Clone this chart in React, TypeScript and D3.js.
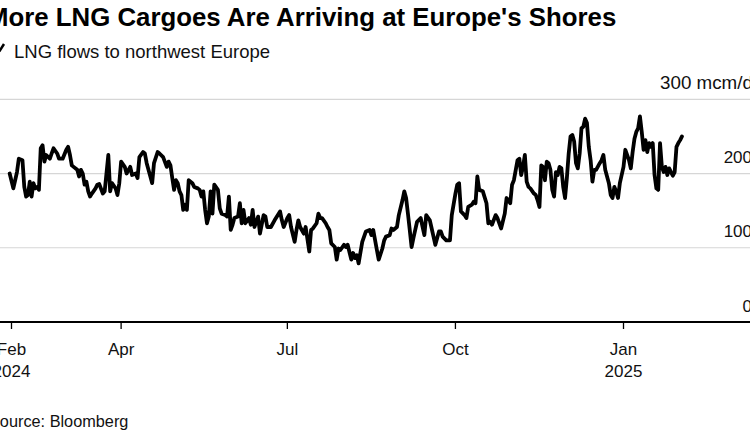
import React from 'react';
import * as d3 from 'd3';

const TITLE = "More LNG Cargoes Are Arriving at Europe's Shores";
const SUBTITLE = "LNG flows to northwest Europe";
const SOURCE = "Source: Bloomberg";
const START_DATE = "2024-01-31";

// days since START_DATE
const dayOffsets = [
  0, 2, 3, 4, 5, 7, 8, 9, 10, 11,
  12, 13, 14, 15, 16, 17, 18, 19, 20, 22,
  23, 24, 26, 27, 29, 31, 32, 33, 34, 35,
  37, 38, 39, 40, 41, 42, 43, 44, 45, 47,
  48, 49, 51, 52, 54, 55, 56, 58, 59, 60,
  61, 63, 64, 66, 67, 69, 70, 71, 73, 74,
  75, 77, 78, 79, 81, 82, 84, 86, 87, 88,
  89, 90, 91, 92, 93, 94, 95, 96, 97, 98,
  100, 101, 103, 104, 105, 106, 107, 108, 109, 110,
  111, 112, 114, 115, 116, 118, 119, 120, 121, 122,
  123, 125, 126, 127, 128, 129, 131, 132, 133, 134,
  136, 137, 139, 140, 141, 143, 145, 148, 149, 150,
  152, 153, 154, 156, 157, 158, 159, 161, 162, 164,
  165, 166, 168, 169, 170, 171, 173, 174, 175, 176,
  178, 179, 180, 181, 183, 184, 185, 187, 188, 189,
  190, 191, 193, 194, 195, 197, 198, 199, 201, 202,
  204, 205, 206, 208, 209, 210, 212, 213, 215, 216,
  217, 218, 219, 220, 221, 222, 223, 225, 226, 227,
  228, 230, 231, 232, 233, 235, 236, 237, 239, 240,
  241, 242, 244, 245, 246, 247, 249, 250, 251, 253,
  254, 255, 256, 257, 259, 261, 262, 263, 264, 266,
  267, 269, 271, 272, 274, 275, 276, 278, 279, 280,
  281, 282, 283, 284, 285, 287, 288, 289, 290, 291,
  292, 293, 294, 295, 296, 297, 298, 299, 300, 301,
  302, 303, 304, 305, 306, 307, 308, 309, 310, 311,
  312, 313, 314, 315, 316, 317, 318, 319, 320, 321,
  323, 324, 325, 326, 328, 329, 330, 331, 332, 333,
  334, 336, 337, 339, 340, 341, 342, 343, 344, 345,
  346, 347, 348, 349, 350, 351, 352, 353, 354, 355,
  356, 357, 358, 359, 360, 361, 362, 363, 364, 365,
  366, 367, 368,
];

// mcm/d
const flowValues = [
  200, 180, 191, 202, 220, 218, 182, 169, 171, 189,
  169, 187, 180, 182, 178, 234, 238, 216, 225, 220,
  227, 234, 227, 220, 220, 232, 236, 225, 211, 209,
  205, 196, 205, 200, 185, 189, 176, 169, 173, 180,
  185, 186, 173, 176, 225, 176, 187, 180, 171, 187,
  216, 209, 200, 209, 198, 200, 194, 222, 229, 227,
  214, 196, 187, 214, 229, 227, 222, 209, 216, 211,
  194, 178, 191, 187, 176, 171, 151, 158, 151, 191,
  187, 182, 180, 178, 169, 176, 151, 133, 142, 176,
  146, 185, 178, 153, 146, 144, 142, 169, 124, 131,
  140, 142, 160, 133, 151, 133, 140, 131, 151, 128,
  142, 119, 144, 142, 128, 128, 137, 149, 137, 128,
  140, 144, 128, 108, 124, 137, 128, 119, 128, 95,
  124, 126, 133, 146, 140, 140, 133, 128, 124, 106,
  101, 84, 99, 97, 104, 101, 104, 84, 93, 86,
  90, 79, 108, 115, 122, 124, 117, 124, 97, 84,
  99, 110, 115, 117, 126, 124, 128, 144, 164, 176,
  167, 146, 124, 101, 113, 124, 135, 140, 128, 117,
  144, 137, 126, 115, 104, 122, 122, 115, 110, 110,
  110, 144, 173, 185, 187, 149, 144, 140, 155, 158,
  162, 160, 196, 178, 176, 160, 133, 135, 131, 144,
  140, 126, 146, 167, 160, 185, 191, 218, 220, 198,
  209, 225, 189, 182, 180, 173, 171, 164, 155, 211,
  209, 191, 216, 214, 205, 178, 169, 202, 198, 209,
  207, 182, 167, 194, 227, 250, 252, 243, 214, 207,
  227, 261, 263, 274, 268, 236, 218, 189, 205, 205,
  214, 218, 225, 205, 187, 171, 167, 182, 176, 167,
  187, 209, 232, 218, 207, 229, 247, 256, 261, 277,
  256, 232, 245, 229, 241, 236, 241, 198, 180, 178,
  241, 209, 202, 209, 198, 207, 202, 197, 202, 236,
  241, 245, 250,
];

const yTicks = [0, 100, 200, 300];
const yUnit = " mcm/d";
const xTickDates = ["2024-02-01", "2024-04-01", "2024-07-01", "2024-10-01", "2025-01-01"];
const xTickLabels = [["Feb", "2024"], ["Apr"], ["Jul"], ["Oct"], ["Jan", "2025"]];

const FONT = "'Liberation Sans', Arial, Helvetica, sans-serif";

export default function App() {
  const W = 750;
  const H = 444;
  const parse = d3.utcParse("%Y-%m-%d");
  const start = parse(START_DATE) as Date;
  const data = dayOffsets.map((d, i) => ({ date: d3.utcDay.offset(start, d), value: flowValues[i] }));

  const x = d3
    .scaleUtc()
    .domain([parse("2024-02-01") as Date, parse("2025-01-01") as Date])
    .range([11.5, 623.5]);
  const y = d3.scaleLinear().domain([0, 300]).range([322, 99.3]);

  const line = d3
    .line<{ date: Date; value: number }>()
    .x((d) => x(d.date))
    .y((d) => y(d.value));

  const yMax = yTicks[yTicks.length - 1];

  return (
    <svg
      width={W}
      height={H}
      viewBox={`0 0 ${W} ${H}`}
      style={{ position: 'fixed', left: 0, top: 0, display: 'block', background: '#fff' }}
      fontFamily={FONT}
    >
      <rect x={0} y={0} width={W} height={H} fill="#fff" />
      {/* title */}
      <text x={-13} y={26} fontSize={25.8} fontWeight="bold" fill="#000">
        {TITLE}
      </text>
      {/* legend */}
      <polyline points="-3,47 -0.5,51 4,44" fill="none" stroke="#000" strokeWidth={2.5} strokeLinejoin="round" />
      <text x={14} y={58} fontSize={18.5} fill="#111">
        {SUBTITLE}
      </text>

      {/* gridlines */}
      {yTicks
        .filter((t) => t > 0)
        .map((t) => (
          <line key={`g${t}`} x1={0} x2={W} y1={y(t)} y2={y(t)} stroke="#d6d6d6" strokeWidth={1.2} />
        ))}

      {/* y labels */}
      {yTicks.map((t) => (
        <text
          key={`yl${t}`}
          x={t === yMax ? 660 : 752}
          y={y(t) - 10.5}
          fontSize={t === yMax ? 18.8 : 17}
          textAnchor={t === yMax ? 'start' : 'end'}
          fill="#111"
        >
          {t === yMax ? `${t}${yUnit}` : `${t}`}
        </text>
      ))}

      {/* line */}
      <path d={line(data) || ''} fill="none" stroke="#000" strokeWidth={3.8} strokeLinejoin="round" strokeLinecap="round" />

      {/* x axis */}
      <line x1={0} x2={W} y1={y(0)} y2={y(0)} stroke="#000" strokeWidth={1.8} />
      {xTickDates.map((ds, i) => {
        const xx = x(parse(ds) as Date);
        return (
          <g key={ds}>
            <line x1={xx} x2={xx} y1={y(0)} y2={y(0) + 7} stroke="#000" strokeWidth={1.3} />
            {xTickLabels[i].map((lab, j) => (
              <text key={lab} x={xx} y={355 + j * 22} fontSize={17} textAnchor="middle" fill="#111">
                {lab}
              </text>
            ))}
          </g>
        );
      })}

      {/* source */}
      <text x={-11} y={427} fontSize={16.3} fill="#111">
        {SOURCE}
      </text>
    </svg>
  );
}
